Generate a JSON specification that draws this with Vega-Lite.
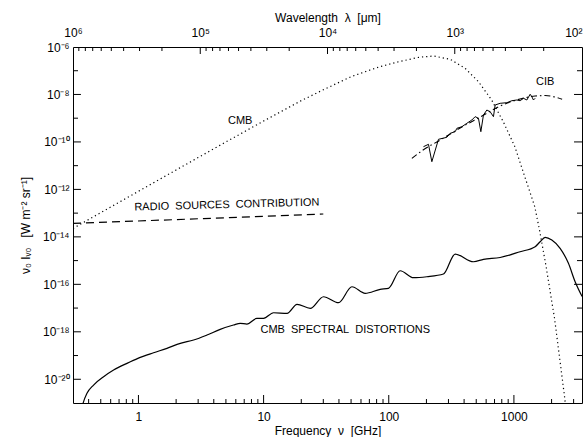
{
 "$schema": "https://vega.github.io/schema/vega-lite/v6.json",
 "width": 509, "height": 356,
 "autosize": {"type": "none"},
 "padding": {"left": 73, "top": 47, "right": 2, "bottom": 34},
 "background": "white",
 "config": {
  "view": {"stroke": "#000", "strokeWidth": 1},
  "axis": {"grid": false, "domain": false, "ticks": false, "labelColor": "#000", "labelFont": "Liberation Sans", "labelFontSize": 12, "titleFont": "Liberation Sans", "titleFontSize": 12, "titleFontWeight": "normal", "titleColor": "#000", "labelFlush": false, "labelOverlap": false, "labelBound": false},
  "text": {"font": "Liberation Sans", "fontSize": 11, "color": "#000"}
 },
 "datasets": {
  "cmb": [
   {"nu": 0.3, "I": 2.26e-14}, {"nu": 0.5, "I": 1.05e-13}, {"nu": 1, "I": 8.3e-13}, {"nu": 2, "I": 6.6e-12},
   {"nu": 3, "I": 2.19e-11}, {"nu": 5, "I": 1.0e-10}, {"nu": 10, "I": 7.6e-10}, {"nu": 20, "I": 5.5e-9},
   {"nu": 30, "I": 1.58e-8}, {"nu": 50, "I": 5.6e-8}, {"nu": 70, "I": 1.05e-7}, {"nu": 85, "I": 1.48e-7},
   {"nu": 120, "I": 2.4e-7}, {"nu": 174, "I": 3.68e-7}, {"nu": 228, "I": 4.18e-7}, {"nu": 310, "I": 3.03e-7},
   {"nu": 408, "I": 1.26e-7}, {"nu": 521, "I": 3.45e-8}, {"nu": 664, "I": 5.85e-9}, {"nu": 822, "I": 7.1e-10},
   {"nu": 1018, "I": 6.3e-11}, {"nu": 1222, "I": 3.42e-12}, {"nu": 1468, "I": 1.86e-13}, {"nu": 1607, "I": 1.78e-14},
   {"nu": 1815, "I": 5.0e-16}, {"nu": 1988, "I": 2.57e-17}, {"nu": 2115, "I": 3.5e-18}, {"nu": 2541, "I": 1.8e-21},
   {"nu": 2700, "I": 1e-22}
  ],
  "radio": [
   {"nu": 0.3, "I": 3.7e-14}, {"nu": 3.3, "I": 5.9e-14}, {"nu": 30, "I": 9.2e-14}
  ],
  "dist": [
   {"nu": 0.35, "I": 5.0e-22}, {"nu": 0.361, "I": 9.7e-22}, {"nu": 0.388, "I": 2.55e-21}, {"nu": 0.438, "I": 5.7e-21},
   {"nu": 0.527, "I": 1.28e-20}, {"nu": 0.633, "I": 2.44e-20}, {"nu": 0.81, "I": 4.69e-20}, {"nu": 0.99, "I": 7.6e-20},
   {"nu": 1.32, "I": 1.31e-19}, {"nu": 1.69, "I": 2.01e-19}, {"nu": 2.16, "I": 3.27e-19}, {"nu": 2.76, "I": 4.5e-19},
   {"nu": 3.53, "I": 7.3e-19}, {"nu": 4.5, "I": 1.27e-18}, {"nu": 5.75, "I": 1.93e-18}, {"nu": 6.51, "I": 2.28e-18},
   {"nu": 7.36, "I": 2.12e-18}, {"nu": 8.84, "I": 3.69e-18}, {"nu": 9.99, "I": 3.69e-18}, {"nu": 12.0, "I": 6.35e-18},
   {"nu": 15.4, "I": 6.0e-18}, {"nu": 18.5, "I": 1.44e-17}, {"nu": 23.6, "I": 9.75e-18}, {"nu": 30.1, "I": 3.0e-17},
   {"nu": 39.7, "I": 1.68e-17}, {"nu": 50.8, "I": 7.9e-17}, {"nu": 64.8, "I": 4.18e-17}, {"nu": 85.4, "I": 6.15e-17},
   {"nu": 99.5, "I": 6.8e-17}, {"nu": 123.4, "I": 3.74e-16}, {"nu": 157.6, "I": 1.9e-16}, {"nu": 201.6, "I": 2.09e-16},
   {"nu": 273.6, "I": 2.72e-16}, {"nu": 339.4, "I": 1.89e-15}, {"nu": 475.2, "I": 8.95e-16}, {"nu": 571, "I": 1.13e-15},
   {"nu": 776, "I": 1.35e-15}, {"nu": 1121, "I": 2.37e-15}, {"nu": 1478, "I": 3.84e-15}, {"nu": 1620, "I": 6.24e-15},
   {"nu": 1776, "I": 9.57e-15}, {"nu": 2009, "I": 7.36e-15}, {"nu": 2340, "I": 3.29e-15}, {"nu": 2727, "I": 7.67e-16},
   {"nu": 3084, "I": 1.29e-16}, {"nu": 3508, "I": 3.06e-17}
  ],
  "cibmodel": [
   {"nu": 153, "I": 2.04e-11}, {"nu": 188, "I": 4.56e-11}, {"nu": 257.5, "I": 1.2e-10}, {"nu": 372, "I": 3.86e-10},
   {"nu": 537.5, "I": 1.12e-9}, {"nu": 776, "I": 3.27e-9}, {"nu": 1121, "I": 6.44e-9}, {"nu": 1478, "I": 8.6e-9},
   {"nu": 1776, "I": 9.0e-9}, {"nu": 2135, "I": 7.8e-9}, {"nu": 2428, "I": 6.25e-9}
  ],
  "cibdata": [
   {"nu": 189.4, "I": 6.3e-11}, {"nu": 207.7, "I": 7.94e-11}, {"nu": 221, "I": 1.47e-11}, {"nu": 249.6, "I": 1.29e-10},
   {"nu": 291.3, "I": 1.57e-10}, {"nu": 309.5, "I": 2.31e-10}, {"nu": 339.4, "I": 2.7e-10}, {"nu": 350.2, "I": 3.75e-10},
   {"nu": 383.9, "I": 4.38e-10}, {"nu": 420.9, "I": 6.1e-10}, {"nu": 461.3, "I": 8.4e-10}, {"nu": 490.2, "I": 1.16e-9},
   {"nu": 521, "I": 9.9e-10}, {"nu": 544.4, "I": 2.7e-10}, {"nu": 571, "I": 1.36e-9}, {"nu": 607.9, "I": 2.21e-9},
   {"nu": 645.9, "I": 1.87e-9}, {"nu": 686.3, "I": 1.16e-9}, {"nu": 708.1, "I": 3.6e-9}, {"nu": 776.2, "I": 4.24e-9},
   {"nu": 878.3, "I": 4.5e-9}, {"nu": 962.7, "I": 5.46e-9}, {"nu": 1055.4, "I": 5.85e-9}, {"nu": 1121.4, "I": 5.46e-9},
   {"nu": 1191.7, "I": 6.9e-9}, {"nu": 1268.7, "I": 5.85e-9}, {"nu": 1348.2, "I": 1.02e-8}, {"nu": 1390.8, "I": 8.05e-9},
   {"nu": 1432.2, "I": 5.85e-9}, {"nu": 1477.8, "I": 6.9e-9}
  ],
  "labels": [
   {"label": "CMB", "nu": 6.5, "I": 7.6e-10},
   {"label": "CIB", "nu": 1776, "I": 3.45e-8},
   {"label": "CMB\u00a0 SPECTRAL\u00a0 DISTORTIONS", "nu": 44.9, "I": 1.19e-18}
  ],
  "radiolabel": [
   {"label": "RADIO\u00a0 SOURCES\u00a0 CONTRIBUTION", "nu": 5.09, "I": 2.2e-13}
  ],
  "xmaj": [{"v": 1}, {"v": 10}, {"v": 100}, {"v": 1000}],
  "xmin": [{"v": 0.4}, {"v": 0.5}, {"v": 0.6}, {"v": 0.7}, {"v": 0.8}, {"v": 0.9}, {"v": 2}, {"v": 3}, {"v": 4}, {"v": 5}, {"v": 6}, {"v": 7}, {"v": 8}, {"v": 9}, {"v": 20}, {"v": 30}, {"v": 40}, {"v": 50}, {"v": 60}, {"v": 70}, {"v": 80}, {"v": 90}, {"v": 200}, {"v": 300}, {"v": 400}, {"v": 500}, {"v": 600}, {"v": 700}, {"v": 800}, {"v": 900}, {"v": 2000}, {"v": 3000}],
  "ymaj": [{"v": 1e-20}, {"v": 1e-18}, {"v": 1e-16}, {"v": 1e-14}, {"v": 1e-12}, {"v": 1e-10}, {"v": 1e-8}],
  "ymin": [{"v": 1e-19}, {"v": 1e-17}, {"v": 1e-15}, {"v": 1e-13}, {"v": 1e-11}, {"v": 1e-9}, {"v": 1e-7}],
  "lmaj": [{"v": 100000}, {"v": 10000}, {"v": 1000}],
  "lmin": [{"v": 900000}, {"v": 800000}, {"v": 700000}, {"v": 600000}, {"v": 500000}, {"v": 400000}, {"v": 300000}, {"v": 200000}, {"v": 90000}, {"v": 80000}, {"v": 70000}, {"v": 60000}, {"v": 50000}, {"v": 40000}, {"v": 30000}, {"v": 20000}, {"v": 9000}, {"v": 8000}, {"v": 7000}, {"v": 6000}, {"v": 5000}, {"v": 4000}, {"v": 3000}, {"v": 2000}, {"v": 900}, {"v": 800}, {"v": 700}, {"v": 600}, {"v": 500}, {"v": 400}, {"v": 300}, {"v": 200}],
  "lam": [{"lam": 1000000}, {"lam": 100}]
 },
 "layer": [
  {
   "layer": [
    {
     "data": {"name": "cmb"},
     "mark": {"type": "line", "strokeDash": [1.2, 3], "strokeWidth": 1.2, "clip": true, "color": "#000"},
     "encoding": {
      "x": {"field": "nu", "type": "quantitative", "scale": {"type": "log", "domain": [0.3, 3500], "nice": false},
       "axis": {"orient": "bottom", "values": [1, 10, 100, 1000], "format": "d", "labelPadding": 8, "title": "Frequency\u00a0 ν\u00a0 [GHz]", "titlePadding": 3}},
      "y": {"field": "I", "type": "quantitative", "scale": {"type": "log", "domain": [1e-21, 1e-6], "nice": false},
       "axis": {"orient": "left", "values": [1e-20, 1e-18, 1e-16, 1e-14, 1e-12, 1e-10, 1e-8, 1e-6], "labelPadding": 4,
        "labelExpr": "'10' + replace(replace(replace(replace(replace(replace(replace('' + round(log(datum.value)/LN10), '-', '⁻'), '0', '⁰'), '1', '¹'), '2', '²'), '4', '⁴'), '6', '⁶'), '8', '⁸')",
        "title": "ν₀ Iᵥ₀\u00a0\u00a0 [W m⁻² sr⁻¹]", "titlePadding": 10}}
     }
    },
    {
     "data": {"name": "radio"},
     "mark": {"type": "line", "strokeDash": [8, 5], "strokeWidth": 1.2, "clip": true, "color": "#000"},
     "encoding": {
      "x": {"field": "nu", "type": "quantitative", "scale": {"type": "log", "domain": [0.3, 3500], "nice": false}, "axis": null},
      "y": {"field": "I", "type": "quantitative", "scale": {"type": "log", "domain": [1e-21, 1e-6], "nice": false}, "axis": null}
     }
    },
    {
     "data": {"name": "dist"},
     "mark": {"type": "line", "strokeWidth": 1.2, "clip": true, "color": "#000", "interpolate": "monotone"},
     "encoding": {
      "x": {"field": "nu", "type": "quantitative", "scale": {"type": "log", "domain": [0.3, 3500], "nice": false}, "axis": null},
      "y": {"field": "I", "type": "quantitative", "scale": {"type": "log", "domain": [1e-21, 1e-6], "nice": false}, "axis": null}
     }
    },
    {
     "data": {"name": "cibmodel"},
     "mark": {"type": "line", "strokeDash": [6, 3, 1.5, 3], "strokeWidth": 1.1, "clip": true, "color": "#000", "interpolate": "monotone"},
     "encoding": {
      "x": {"field": "nu", "type": "quantitative", "scale": {"type": "log", "domain": [0.3, 3500], "nice": false}, "axis": null},
      "y": {"field": "I", "type": "quantitative", "scale": {"type": "log", "domain": [1e-21, 1e-6], "nice": false}, "axis": null}
     }
    },
    {
     "data": {"name": "cibdata"},
     "mark": {"type": "line", "strokeWidth": 1, "clip": true, "color": "#000"},
     "encoding": {
      "x": {"field": "nu", "type": "quantitative", "scale": {"type": "log", "domain": [0.3, 3500], "nice": false}, "axis": null},
      "y": {"field": "I", "type": "quantitative", "scale": {"type": "log", "domain": [1e-21, 1e-6], "nice": false}, "axis": null}
     }
    },
    {
     "data": {"name": "labels"},
     "mark": {"type": "text", "align": "center", "baseline": "middle", "fontSize": 11},
     "encoding": {
      "x": {"field": "nu", "type": "quantitative", "scale": {"type": "log", "domain": [0.3, 3500], "nice": false}, "axis": null},
      "y": {"field": "I", "type": "quantitative", "scale": {"type": "log", "domain": [1e-21, 1e-6], "nice": false}, "axis": null},
      "text": {"field": "label"}
     }
    },
    {
     "data": {"name": "radiolabel"},
     "mark": {"type": "text", "align": "center", "baseline": "middle", "fontSize": 11, "angle": 358.4},
     "encoding": {
      "x": {"field": "nu", "type": "quantitative", "scale": {"type": "log", "domain": [0.3, 3500], "nice": false}, "axis": null},
      "y": {"field": "I", "type": "quantitative", "scale": {"type": "log", "domain": [1e-21, 1e-6], "nice": false}, "axis": null},
      "text": {"field": "label"}
     }
    },
    {
     "data": {"name": "xmaj"},
     "mark": {"type": "rule", "color": "#000", "strokeWidth": 1},
     "encoding": {
      "x": {"field": "v", "type": "quantitative", "scale": {"type": "log", "domain": [0.3, 3500], "nice": false}, "axis": null},
      "y": {"datum": 1e-21, "type": "quantitative", "scale": {"type": "log", "domain": [1e-21, 1e-6], "nice": false}, "axis": null},
      "y2": {"datum": 2.17e-21}
     }
    },
    {
     "data": {"name": "xmin"},
     "mark": {"type": "rule", "color": "#000", "strokeWidth": 1},
     "encoding": {
      "x": {"field": "v", "type": "quantitative", "scale": {"type": "log", "domain": [0.3, 3500], "nice": false}, "axis": null},
      "y": {"datum": 1e-21, "type": "quantitative", "scale": {"type": "log", "domain": [1e-21, 1e-6], "nice": false}, "axis": null},
      "y2": {"datum": 1.47e-21}
     }
    },
    {
     "data": {"name": "ymaj"},
     "mark": {"type": "rule", "color": "#000", "strokeWidth": 1},
     "encoding": {
      "x": {"datum": 0.3, "type": "quantitative", "scale": {"type": "log", "domain": [0.3, 3500], "nice": false}, "axis": null},
      "x2": {"datum": 0.347},
      "y": {"field": "v", "type": "quantitative", "scale": {"type": "log", "domain": [1e-21, 1e-6], "nice": false}, "axis": null}
     }
    },
    {
     "data": {"name": "ymin"},
     "mark": {"type": "rule", "color": "#000", "strokeWidth": 1},
     "encoding": {
      "x": {"datum": 0.3, "type": "quantitative", "scale": {"type": "log", "domain": [0.3, 3500], "nice": false}, "axis": null},
      "x2": {"datum": 0.329},
      "y": {"field": "v", "type": "quantitative", "scale": {"type": "log", "domain": [1e-21, 1e-6], "nice": false}, "axis": null}
     }
    },
    {
     "data": {"name": "ymaj"},
     "mark": {"type": "rule", "color": "#000", "strokeWidth": 1},
     "encoding": {
      "x": {"datum": 3022, "type": "quantitative", "scale": {"type": "log", "domain": [0.3, 3500], "nice": false}, "axis": null},
      "x2": {"datum": 3500},
      "y": {"field": "v", "type": "quantitative", "scale": {"type": "log", "domain": [1e-21, 1e-6], "nice": false}, "axis": null}
     }
    },
    {
     "data": {"name": "ymin"},
     "mark": {"type": "rule", "color": "#000", "strokeWidth": 1},
     "encoding": {
      "x": {"datum": 3193, "type": "quantitative", "scale": {"type": "log", "domain": [0.3, 3500], "nice": false}, "axis": null},
      "x2": {"datum": 3500},
      "y": {"field": "v", "type": "quantitative", "scale": {"type": "log", "domain": [1e-21, 1e-6], "nice": false}, "axis": null}
     }
    }
   ],
   "resolve": {"axis": {"x": "independent", "y": "independent"}}
  },
  {
   "layer": [
    {
     "data": {"name": "lam"},
     "mark": {"type": "point", "opacity": 0},
     "encoding": {
      "x": {"field": "lam", "type": "quantitative", "scale": {"type": "log", "domain": [100, 1000000], "reverse": true, "nice": false},
       "axis": {"orient": "top", "values": [1000000, 100000, 10000, 1000, 100], "labelPadding": 8,
        "labelAlign": {"condition": {"test": "datum.value <= 100", "value": "right"}, "value": "center"},
        "labelExpr": "'10' + replace(replace(replace(replace(replace('' + round(log(datum.value)/LN10), '2', '²'), '3', '³'), '4', '⁴'), '5', '⁵'), '6', '⁶')",
        "title": "Wavelength\u00a0 λ\u00a0 [μm]", "titlePadding": 2}}
     }
    },
    {
     "data": {"name": "lmaj"},
     "mark": {"type": "rule", "color": "#000", "strokeWidth": 1},
     "encoding": {
      "x": {"field": "v", "type": "quantitative", "scale": {"type": "log", "domain": [100, 1000000], "reverse": true, "nice": false}, "axis": null},
      "y": {"datum": 1e-6, "type": "quantitative", "scale": {"type": "log", "domain": [1e-21, 1e-6], "nice": false}, "axis": null},
      "y2": {"datum": 5.07e-7}
     }
    },
    {
     "data": {"name": "lmin"},
     "mark": {"type": "rule", "color": "#000", "strokeWidth": 1},
     "encoding": {
      "x": {"field": "v", "type": "quantitative", "scale": {"type": "log", "domain": [100, 1000000], "reverse": true, "nice": false}, "axis": null},
      "y": {"datum": 1e-6, "type": "quantitative", "scale": {"type": "log", "domain": [1e-21, 1e-6], "nice": false}, "axis": null},
      "y2": {"datum": 6.78e-7}
     }
    }
   ],
   "resolve": {"axis": {"x": "independent"}}
  }
 ],
 "resolve": {"scale": {"x": "independent"}, "axis": {"x": "independent", "y": "independent"}}
}
